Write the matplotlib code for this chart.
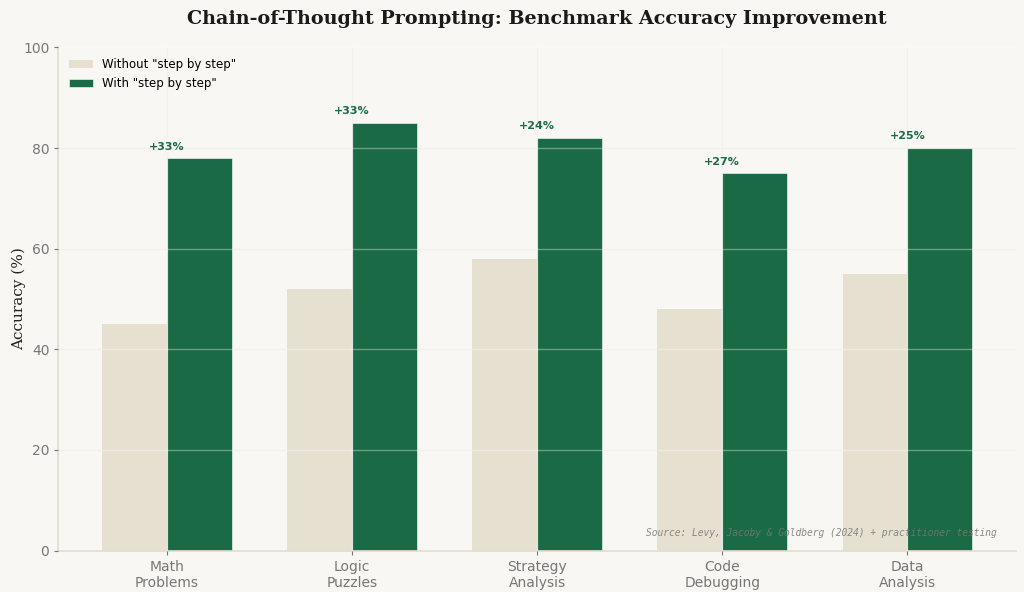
import numpy as np
import matplotlib
matplotlib.use("Agg")
import matplotlib.pyplot as plt

# benchmark categories and accuracies (%)
CATEGORIES = ["Math\nProblems", "Logic\nPuzzles", "Strategy\nAnalysis", "Code\nDebugging", "Data\nAnalysis"]
WITHOUT = [45, 52, 58, 48, 55]
WITH = [78, 85, 82, 75, 80]
GAINS = ["+33%", "+33%", "+24%", "+27%", "+25%"]
YTICKS = [0, 20, 40, 60, 80, 100]

BG = "#f9f7f3"
BEIGE = "#e6e0d1"
GREEN = "#1a6b45"
GRID = "#ece8df"

fig, ax = plt.subplots(figsize=(10.24, 5.92), dpi=100)
fig.patch.set_facecolor(BG)
ax.set_facecolor(BG)

x = np.arange(len(CATEGORIES))
w = 0.35
ax.bar(x - w / 2, WITHOUT, w, color=BEIGE, label='Without "step by step"', zorder=1)
ax.bar(x + w / 2, WITH, w, color=GREEN, edgecolor="#ffffff", linewidth=0.4,
       label='With "step by step"', zorder=1)

# gain labels, centred on the category tick
for xi, v, g in zip(x, WITH, GAINS):
    ax.text(xi, v + 1.3, g, ha="center", va="bottom",
            fontsize=8, fontweight="bold", color=GREEN, zorder=4)

ax.set_ylim(0, 100)
ax.set_yticks(YTICKS)
ax.set_xticks(x)
ax.set_xticklabels(CATEGORIES)
ax.grid(True, color="#ffffff", alpha=0.35, lw=1, zorder=2)
ax.set_axisbelow(False)
# faint grid visible on background
for yv in YTICKS[1:-1]:
    ax.axhline(yv, color=GRID, lw=0.8, zorder=0)
for xi in x:
    ax.axvline(xi, color=GRID, lw=0.8, zorder=0)

for s in ("top", "right"):
    ax.spines[s].set_visible(False)
for s in ("left", "bottom"):
    ax.spines[s].set_color("#e3dccb")
    ax.spines[s].set_linewidth(1.2)
ax.tick_params(colors="#777777", labelsize=10, length=3)

ax.set_ylabel("Accuracy (%)", family="DejaVu Serif", fontsize=11, color="#222222", labelpad=-2)
ax.set_title("Chain-of-Thought Prompting: Benchmark Accuracy Improvement",
             family="DejaVu Serif", fontweight="bold", fontsize=13.8, color="#1a1a1a", pad=17)

ax.text(0.98, 0.025, "Source: Levy, Jacoby & Goldberg (2024) + practitioner testing",
        transform=ax.transAxes, ha="right", va="bottom", fontsize=6.9,
        family="DejaVu Sans Mono", style="italic", color="#777777", alpha=0.85, zorder=5)

ax.legend(loc="upper left", frameon=False, fontsize=8.5, labelspacing=0.5)

fig.subplots_adjust(left=0.057, right=0.992, top=0.92, bottom=0.07)
fig.savefig("out.png", dpi=100, facecolor=BG)
